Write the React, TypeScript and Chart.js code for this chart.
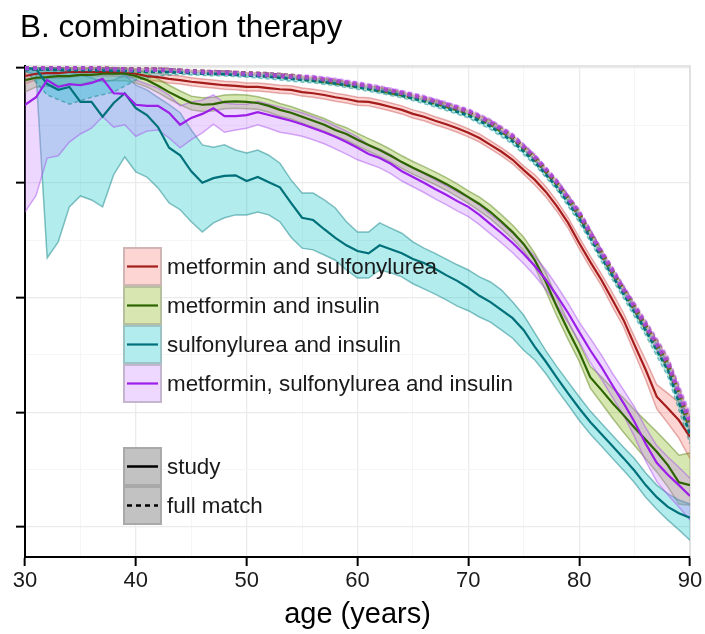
import React, { useEffect, useRef } from 'react';
import { Chart, registerables } from 'chart.js';

Chart.register(...registerables);

const FONT = '"Liberation Sans", Arial, Helvetica, sans-serif';

// ---------- axes ----------
const xTickValues = [30, 35, 40, 45, 50, 55, 60, 65, 70, 75, 80, 85, 90];
const xMajorTicks = [30, 40, 50, 60, 70, 80, 90];
const yTickValues = [0.2, 0.3, 0.4, 0.5, 0.6, 0.7, 0.8, 0.9, 1.0];
const yMajorTicks = [0.2, 0.4, 0.6, 0.8, 1.0];

// ---------- categories / legend ----------
const therapyLabels = [
  'metformin and sulfonylurea',
  'metformin and insulin',
  'sulfonylurea and insulin',
  'metformin, sulfonylurea and insulin',
];
const typeLabels = ['study', 'full match'];

// ---------- study cohort (yearly) ----------
const studyAges = [30, 31, 32, 33, 34, 35, 36, 37, 38, 39, 40, 41, 42, 43, 44, 45, 46, 47, 48, 49, 50, 51, 52, 53, 54, 55, 56, 57, 58, 59, 60, 61, 62, 63, 64, 65, 66, 67, 68, 69, 70, 71, 72, 73, 74, 75, 76, 77, 78, 79, 80, 81, 82, 83, 84, 85, 86, 87, 88, 89, 90];

const metSulStudy = [0.986, 0.990, 0.991, 0.991, 0.993, 0.993, 0.993, 0.993, 0.993, 0.991, 0.990, 0.986, 0.984, 0.981, 0.979, 0.976, 0.974, 0.972, 0.970, 0.969, 0.967, 0.967, 0.965, 0.963, 0.962, 0.958, 0.956, 0.953, 0.949, 0.946, 0.942, 0.941, 0.937, 0.932, 0.927, 0.920, 0.915, 0.908, 0.902, 0.895, 0.887, 0.878, 0.866, 0.854, 0.840, 0.822, 0.805, 0.784, 0.759, 0.730, 0.695, 0.662, 0.631, 0.596, 0.561, 0.517, 0.474, 0.427, 0.407, 0.386, 0.357];
const metSulStudyUpper = [1.000, 1.000, 1.000, 1.000, 1.000, 1.000, 1.000, 1.000, 1.000, 0.998, 0.997, 0.993, 0.991, 0.988, 0.986, 0.983, 0.981, 0.979, 0.977, 0.976, 0.974, 0.974, 0.972, 0.970, 0.969, 0.965, 0.963, 0.960, 0.956, 0.953, 0.949, 0.948, 0.944, 0.939, 0.934, 0.927, 0.922, 0.915, 0.909, 0.902, 0.894, 0.885, 0.873, 0.861, 0.847, 0.829, 0.814, 0.793, 0.768, 0.739, 0.705, 0.672, 0.641, 0.608, 0.573, 0.531, 0.491, 0.448, 0.433, 0.417, 0.395];
const metSulStudyLower = [0.972, 0.980, 0.982, 0.982, 0.984, 0.986, 0.986, 0.986, 0.986, 0.984, 0.983, 0.979, 0.977, 0.974, 0.972, 0.969, 0.967, 0.965, 0.963, 0.962, 0.960, 0.960, 0.958, 0.956, 0.955, 0.951, 0.949, 0.946, 0.942, 0.939, 0.935, 0.934, 0.930, 0.925, 0.920, 0.913, 0.908, 0.901, 0.895, 0.888, 0.880, 0.871, 0.859, 0.847, 0.833, 0.815, 0.796, 0.775, 0.750, 0.721, 0.685, 0.652, 0.621, 0.584, 0.549, 0.503, 0.457, 0.406, 0.381, 0.355, 0.319];

const metInsStudy = [0.979, 0.983, 0.984, 0.986, 0.986, 0.988, 0.988, 0.990, 0.990, 0.990, 0.986, 0.979, 0.969, 0.958, 0.948, 0.939, 0.936, 0.937, 0.941, 0.942, 0.941, 0.939, 0.934, 0.927, 0.922, 0.915, 0.908, 0.901, 0.892, 0.885, 0.875, 0.866, 0.857, 0.847, 0.836, 0.826, 0.817, 0.808, 0.798, 0.787, 0.775, 0.763, 0.749, 0.732, 0.714, 0.693, 0.665, 0.627, 0.583, 0.543, 0.505, 0.461, 0.439, 0.416, 0.395, 0.373, 0.352, 0.331, 0.308, 0.278, 0.273];
const metInsStudyUpper = [1.000, 0.999, 1.000, 1.000, 1.000, 1.000, 1.000, 1.000, 1.000, 1.000, 0.998, 0.991, 0.981, 0.970, 0.960, 0.951, 0.948, 0.949, 0.953, 0.954, 0.953, 0.950, 0.945, 0.938, 0.933, 0.926, 0.919, 0.912, 0.903, 0.896, 0.886, 0.877, 0.868, 0.858, 0.847, 0.837, 0.828, 0.819, 0.809, 0.798, 0.786, 0.775, 0.761, 0.744, 0.726, 0.705, 0.677, 0.643, 0.599, 0.559, 0.521, 0.480, 0.462, 0.442, 0.425, 0.404, 0.385, 0.366, 0.346, 0.325, 0.329];
const metInsStudyLower = [0.958, 0.967, 0.968, 0.970, 0.970, 0.972, 0.976, 0.978, 0.978, 0.978, 0.974, 0.967, 0.957, 0.946, 0.936, 0.927, 0.924, 0.925, 0.929, 0.930, 0.929, 0.928, 0.923, 0.916, 0.911, 0.904, 0.897, 0.890, 0.881, 0.874, 0.864, 0.855, 0.846, 0.836, 0.825, 0.815, 0.806, 0.797, 0.787, 0.776, 0.764, 0.751, 0.737, 0.720, 0.702, 0.681, 0.653, 0.611, 0.567, 0.527, 0.489, 0.442, 0.416, 0.390, 0.365, 0.342, 0.319, 0.296, 0.270, 0.240, 0.238];

const sulInsStudy = [1.000, 0.998, 0.972, 0.962, 0.967, 0.941, 0.941, 0.915, 0.939, 0.956, 0.930, 0.918, 0.897, 0.861, 0.848, 0.820, 0.800, 0.808, 0.812, 0.813, 0.803, 0.810, 0.801, 0.792, 0.765, 0.739, 0.735, 0.719, 0.704, 0.691, 0.681, 0.677, 0.691, 0.684, 0.677, 0.667, 0.660, 0.650, 0.639, 0.629, 0.617, 0.603, 0.592, 0.578, 0.564, 0.543, 0.514, 0.488, 0.460, 0.433, 0.407, 0.383, 0.362, 0.341, 0.320, 0.298, 0.273, 0.252, 0.235, 0.224, 0.216];
const sulInsStudyUpper = [1.000, 1.000, 1.000, 0.997, 0.993, 0.988, 0.983, 0.976, 0.979, 0.988, 0.970, 0.962, 0.949, 0.936, 0.922, 0.892, 0.866, 0.862, 0.866, 0.857, 0.852, 0.857, 0.848, 0.834, 0.805, 0.782, 0.782, 0.770, 0.756, 0.732, 0.714, 0.714, 0.730, 0.721, 0.712, 0.697, 0.686, 0.677, 0.667, 0.657, 0.648, 0.636, 0.627, 0.613, 0.592, 0.569, 0.538, 0.507, 0.479, 0.453, 0.427, 0.402, 0.381, 0.360, 0.339, 0.319, 0.294, 0.273, 0.258, 0.247, 0.240];
const sulInsStudyLower = [0.995, 0.988, 0.669, 0.697, 0.758, 0.777, 0.770, 0.758, 0.814, 0.845, 0.819, 0.810, 0.791, 0.765, 0.753, 0.732, 0.714, 0.730, 0.739, 0.744, 0.744, 0.749, 0.744, 0.732, 0.705, 0.686, 0.683, 0.674, 0.665, 0.648, 0.634, 0.634, 0.648, 0.643, 0.636, 0.624, 0.615, 0.606, 0.596, 0.585, 0.577, 0.566, 0.557, 0.543, 0.529, 0.508, 0.491, 0.467, 0.439, 0.413, 0.386, 0.362, 0.341, 0.320, 0.299, 0.277, 0.252, 0.231, 0.212, 0.195, 0.177];

const metSulInsStudy = [0.936, 0.949, 0.979, 0.967, 0.972, 0.970, 0.974, 0.981, 0.956, 0.955, 0.936, 0.934, 0.934, 0.922, 0.901, 0.913, 0.920, 0.930, 0.916, 0.916, 0.918, 0.923, 0.918, 0.913, 0.908, 0.902, 0.895, 0.888, 0.880, 0.871, 0.861, 0.850, 0.843, 0.833, 0.820, 0.810, 0.800, 0.789, 0.779, 0.768, 0.758, 0.744, 0.728, 0.712, 0.695, 0.676, 0.655, 0.631, 0.603, 0.573, 0.540, 0.508, 0.479, 0.447, 0.416, 0.383, 0.345, 0.312, 0.291, 0.273, 0.254];
const metSulInsStudyUpper = [0.997, 0.997, 0.998, 0.997, 0.997, 0.997, 0.997, 0.998, 0.993, 0.990, 0.979, 0.972, 0.965, 0.953, 0.934, 0.941, 0.944, 0.953, 0.939, 0.937, 0.937, 0.942, 0.937, 0.932, 0.927, 0.922, 0.915, 0.908, 0.899, 0.890, 0.880, 0.866, 0.859, 0.849, 0.836, 0.826, 0.816, 0.805, 0.795, 0.784, 0.774, 0.761, 0.745, 0.729, 0.712, 0.693, 0.672, 0.648, 0.620, 0.590, 0.557, 0.529, 0.500, 0.468, 0.439, 0.409, 0.373, 0.342, 0.322, 0.304, 0.285];
const metSulInsStudyLower = [0.749, 0.778, 0.843, 0.847, 0.871, 0.885, 0.895, 0.915, 0.897, 0.901, 0.881, 0.890, 0.892, 0.878, 0.861, 0.875, 0.887, 0.902, 0.888, 0.892, 0.895, 0.901, 0.895, 0.888, 0.885, 0.881, 0.875, 0.868, 0.859, 0.850, 0.840, 0.833, 0.826, 0.816, 0.803, 0.793, 0.783, 0.772, 0.762, 0.751, 0.741, 0.727, 0.711, 0.695, 0.678, 0.659, 0.638, 0.614, 0.586, 0.556, 0.523, 0.487, 0.458, 0.426, 0.395, 0.357, 0.315, 0.279, 0.256, 0.235, 0.212];

// ---------- full match (every 2 years) ----------
const fullAges = [30, 32, 34, 36, 38, 40, 42, 44, 46, 48, 50, 52, 54, 56, 58, 60, 62, 64, 66, 68, 70, 72, 74, 76, 78, 80, 82, 84, 86, 88, 90];

const metSulFull = [1.000, 1.000, 1.000, 1.000, 0.998, 0.997, 0.997, 0.995, 0.993, 0.992, 0.990, 0.988, 0.985, 0.981, 0.976, 0.970, 0.963, 0.955, 0.946, 0.935, 0.923, 0.904, 0.879, 0.843, 0.799, 0.745, 0.677, 0.613, 0.550, 0.484, 0.378];
const metSulFullUpper = [1.000, 1.000, 1.000, 1.000, 1.000, 1.000, 1.000, 0.998, 0.996, 0.995, 0.993, 0.992, 0.989, 0.985, 0.980, 0.974, 0.967, 0.959, 0.950, 0.939, 0.927, 0.909, 0.884, 0.848, 0.804, 0.752, 0.684, 0.620, 0.559, 0.496, 0.394];
const metSulFullLower = [0.997, 0.997, 0.997, 0.997, 0.995, 0.994, 0.994, 0.992, 0.990, 0.989, 0.987, 0.984, 0.981, 0.977, 0.972, 0.966, 0.959, 0.951, 0.942, 0.931, 0.919, 0.899, 0.874, 0.838, 0.794, 0.738, 0.670, 0.606, 0.541, 0.472, 0.362];

const metInsFull = [1.000, 1.000, 1.000, 1.000, 0.998, 0.997, 0.997, 0.995, 0.993, 0.992, 0.990, 0.988, 0.985, 0.980, 0.975, 0.969, 0.962, 0.954, 0.945, 0.934, 0.922, 0.903, 0.878, 0.842, 0.798, 0.744, 0.676, 0.612, 0.549, 0.482, 0.375];
const metInsFullUpper = [1.000, 1.000, 1.000, 1.000, 1.000, 1.000, 1.000, 0.998, 0.996, 0.995, 0.993, 0.992, 0.989, 0.984, 0.979, 0.973, 0.966, 0.958, 0.949, 0.938, 0.926, 0.908, 0.883, 0.847, 0.803, 0.751, 0.683, 0.619, 0.558, 0.494, 0.391];
const metInsFullLower = [0.997, 0.997, 0.997, 0.997, 0.995, 0.994, 0.994, 0.992, 0.990, 0.989, 0.987, 0.984, 0.981, 0.976, 0.971, 0.965, 0.958, 0.950, 0.941, 0.930, 0.918, 0.898, 0.873, 0.837, 0.793, 0.737, 0.669, 0.605, 0.540, 0.470, 0.359];

const sulInsFull = [0.998, 0.997, 0.996, 0.996, 0.995, 0.994, 0.993, 0.992, 0.990, 0.989, 0.987, 0.985, 0.981, 0.978, 0.973, 0.967, 0.960, 0.952, 0.942, 0.930, 0.917, 0.898, 0.872, 0.836, 0.792, 0.738, 0.670, 0.606, 0.543, 0.474, 0.361];
const sulInsFullUpper = [1.000, 1.000, 0.999, 0.999, 0.998, 0.997, 0.996, 0.995, 0.993, 0.992, 0.990, 0.989, 0.985, 0.982, 0.977, 0.971, 0.964, 0.956, 0.946, 0.934, 0.921, 0.903, 0.877, 0.841, 0.797, 0.745, 0.677, 0.613, 0.552, 0.486, 0.377];
const sulInsFullLower = [0.997, 0.953, 0.937, 0.949, 0.958, 0.979, 0.986, 0.989, 0.987, 0.986, 0.984, 0.981, 0.977, 0.974, 0.969, 0.963, 0.956, 0.948, 0.938, 0.926, 0.913, 0.893, 0.867, 0.831, 0.787, 0.731, 0.663, 0.599, 0.534, 0.462, 0.345];

const metSulInsFull = [1.000, 1.000, 1.000, 1.000, 0.998, 0.997, 0.997, 0.995, 0.993, 0.992, 0.990, 0.988, 0.985, 0.983, 0.978, 0.972, 0.965, 0.957, 0.948, 0.937, 0.925, 0.906, 0.881, 0.845, 0.801, 0.747, 0.679, 0.615, 0.552, 0.486, 0.383];
const metSulInsFullUpper = [1.000, 1.000, 1.000, 1.000, 1.000, 1.000, 1.000, 0.998, 0.996, 0.995, 0.993, 0.992, 0.989, 0.987, 0.982, 0.976, 0.969, 0.961, 0.952, 0.941, 0.929, 0.911, 0.886, 0.850, 0.806, 0.754, 0.686, 0.622, 0.561, 0.498, 0.399];
const metSulInsFullLower = [0.997, 0.997, 0.997, 0.997, 0.995, 0.994, 0.994, 0.992, 0.990, 0.989, 0.987, 0.984, 0.981, 0.979, 0.974, 0.968, 0.961, 0.953, 0.944, 0.933, 0.921, 0.901, 0.876, 0.840, 0.796, 0.740, 0.672, 0.608, 0.543, 0.474, 0.367];

// ---------- styles ----------
const bandFills = ['rgba(248,118,109,0.3)', 'rgba(124,174,0,0.3)', 'rgba(0,191,196,0.3)', 'rgba(199,124,255,0.3)'];
const bandEdges = ['rgba(200,80,80,0.45)', 'rgba(80,125,10,0.45)', 'rgba(0,120,125,0.45)', 'rgba(165,70,235,0.45)'];
const legendFills = ['#fdd6d3', '#d8e7b2', '#b2ecee', '#eed8ff'];
const lineColors = ['#a51c1c', '#2e6400', '#00717a', '#9b1fe8'];
const fullLineColors = ['rgba(175,45,45,0.8)', 'rgba(75,110,0,0.8)', '#00717a', 'rgba(178,72,235,0.85)'];

function pts(xs: number[], ys: number[]) {
  return xs.map((x, i) => ({ x, y: ys[i] }));
}

function bandSets(xs: number[], upper: number[], lower: number[], k: number, dash: number[], order: number) {
  const base = {
    pointRadius: 0,
    borderWidth: 1.5,
    borderColor: bandEdges[k],
    borderDash: dash,
    tension: 0,
    order,
  };
  return [
    { ...base, label: 'upper', data: pts(xs, upper), fill: false },
    { ...base, label: 'lower', data: pts(xs, lower), fill: '-1', backgroundColor: bandFills[k] },
  ];
}

function lineSet(xs: number[], ys: number[], color: string, width: number, dash: number[], order: number) {
  return {
    label: 'line',
    data: pts(xs, ys),
    borderColor: color,
    borderWidth: width,
    borderDash: dash,
    borderCapStyle: 'butt',
    pointRadius: 0,
    fill: false,
    tension: 0,
    order,
  };
}

const studyLines = [metSulStudy, metInsStudy, sulInsStudy, metSulInsStudy];
const studyUppers = [metSulStudyUpper, metInsStudyUpper, sulInsStudyUpper, metSulInsStudyUpper];
const studyLowers = [metSulStudyLower, metInsStudyLower, sulInsStudyLower, metSulInsStudyLower];
const fullLines = [metSulFull, metInsFull, sulInsFull, metSulInsFull];
const fullUppers = [metSulFullUpper, metInsFullUpper, sulInsFullUpper, metSulInsFullUpper];
const fullLowers = [metSulFullLower, metInsFullLower, sulInsFullLower, metSulInsFullLower];

function buildDatasets() {
  const ds: any[] = [];
  for (let k = 0; k < 4; k++) {
    const teal = k === 2;
    ds.push(lineSet(fullAges, fullLines[k], fullLineColors[k], teal ? 2.6 : 4.5, teal ? [4, 3] : [4, 4], 4 - k));
  }
  for (let k = 0; k < 4; k++) {
    ds.push(lineSet(studyAges, studyLines[k], lineColors[k], 2.2, [], 10 - k));
  }
  for (let k = 0; k < 4; k++) {
    ds.push(...bandSets(fullAges, fullUppers[k], fullLowers[k], k, [4, 3], 16 - k));
  }
  for (let k = 0; k < 4; k++) {
    ds.push(...bandSets(studyAges, studyUppers[k], studyLowers[k], k, [], 24 - k));
  }
  return ds;
}

const panelBorder = {
  id: 'panelBorder',
  beforeDatasetsDraw(chart: any) {
    const { ctx, chartArea } = chart;
    const { left, top, right, bottom } = chartArea;
    ctx.save();
    ctx.strokeStyle = '#dcdcdc';
    ctx.lineWidth = 1.5;
    ctx.beginPath();
    ctx.moveTo(left + 1, top);
    ctx.lineTo(right, top);
    ctx.lineTo(right, bottom - 1);
    ctx.stroke();
    ctx.restore();
  },
};

const insetLegend = {
  id: 'insetLegend',
  afterDraw(chart: any) {
    const { ctx, chartArea } = chart;
    const bx = chartArea.left + 98;
    const bw = 39;
    const bh = 39;
    ctx.save();
    ctx.font = `22.4px ${FONT}`;
    ctx.textBaseline = 'middle';
    ctx.textAlign = 'left';
    let y0 = chartArea.top + 181;
    therapyLabels.forEach((lab, i) => {
      const ty = y0 + i * bh;
      ctx.fillStyle = legendFills[i];
      ctx.fillRect(bx, ty, bw, bh);
      ctx.strokeStyle = 'rgba(120,120,120,0.35)';
      ctx.lineWidth = 2;
      ctx.strokeRect(bx + 1, ty + 1, bw - 2, bh - 2);
      ctx.strokeStyle = lineColors[i];
      ctx.lineWidth = 2.2;
      ctx.beginPath();
      ctx.moveTo(bx + 4, ty + bh / 2);
      ctx.lineTo(bx + bw - 4, ty + bh / 2);
      ctx.stroke();
      ctx.fillStyle = '#1a1a1a';
      ctx.fillText(lab, bx + bw + 5, ty + bh / 2 + 1);
    });
    y0 = chartArea.top + 381;
    typeLabels.forEach((lab, i) => {
      const ty = y0 + i * bh;
      ctx.fillStyle = '#c2c2c2';
      ctx.fillRect(bx, ty, bw, bh);
      ctx.strokeStyle = '#a9a9a9';
      ctx.lineWidth = 2;
      ctx.strokeRect(bx + 1, ty + 1, bw - 2, bh - 2);
      ctx.strokeStyle = '#000';
      ctx.lineWidth = 2.5;
      ctx.setLineDash(i === 0 ? [] : [5, 4]);
      ctx.beginPath();
      ctx.moveTo(bx + 4, ty + bh / 2);
      ctx.lineTo(bx + bw - 4, ty + bh / 2);
      ctx.stroke();
      ctx.setLineDash([]);
      ctx.fillStyle = '#1a1a1a';
      ctx.fillText(lab, bx + bw + 5, ty + bh / 2 + 1);
    });
    ctx.restore();
  },
};

export default function App() {
  const ref = useRef<HTMLCanvasElement>(null);
  useEffect(() => {
    const canvas = ref.current;
    if (!canvas) return;
    const isMajorX = (v: number) => xMajorTicks.includes(v);
    const isMajorY = (v: number) => yMajorTicks.some((m) => Math.abs(m - v) < 1e-6);
    const chart = new Chart(canvas, {
      type: 'line',
      data: { datasets: buildDatasets() },
      options: {
        responsive: false,
        animation: false,
        devicePixelRatio: 1,
        layout: { padding: { left: 20, right: 15, top: 0, bottom: 0 } },
        plugins: {
          legend: { display: false },
          tooltip: { enabled: false },
          title: {
            display: true,
            text: 'B. combination therapy',
            align: 'start',
            color: '#000',
            font: { size: 31.5, family: FONT, weight: 'normal' },
            padding: { top: 9, bottom: 19.2 },
          },
        },
        scales: {
          x: {
            type: 'linear',
            min: 30,
            max: 90,
            afterBuildTicks: (scale: any) => {
              scale.ticks = xTickValues.map((v) => ({ value: v }));
            },
            afterFit: (scale: any) => {
              scale.height = 77;
            },
            ticks: {
              autoSkip: false,
              maxRotation: 0,
              padding: 2,
              color: '#1a1a1a',
              font: { size: 22, family: FONT },
              callback: (v: any) => (isMajorX(Number(v)) ? String(v) : ''),
            },
            grid: {
              color: (c: any) => (c.tick && isMajorX(c.tick.value) ? '#ebebeb' : '#f5f5f5'),
              lineWidth: (c: any) => (c.tick && isMajorX(c.tick.value) ? 1.3 : 1),
              tickColor: (c: any) => (c.tick && isMajorX(c.tick.value) ? '#000' : 'rgba(0,0,0,0)'),
              tickWidth: 2,
              tickLength: 9,
            },
            border: { color: '#000', width: 2 },
            title: {
              display: true,
              text: 'age (years)',
              color: '#000',
              font: { size: 29, family: FONT },
              padding: { top: 0, bottom: 2 },
            },
          },
          y: {
            type: 'linear',
            min: 0.1477,
            max: 1.0035,
            afterBuildTicks: (scale: any) => {
              scale.ticks = yTickValues.map((v) => ({ value: v }));
            },
            afterFit: (scale: any) => {
              scale.width = 5;
            },
            ticks: { display: false },
            grid: {
              color: (c: any) => (c.tick && isMajorY(c.tick.value) ? '#ebebeb' : '#f5f5f5'),
              lineWidth: (c: any) => (c.tick && isMajorY(c.tick.value) ? 1.3 : 1),
              tickColor: (c: any) => (c.tick && isMajorY(c.tick.value) ? '#000' : 'rgba(0,0,0,0)'),
              tickWidth: 2,
              tickLength: 9,
            },
            border: { color: '#000', width: 2 },
          },
        },
      } as any,
      plugins: [panelBorder, insetLegend],
    });
    return () => chart.destroy();
  }, []);
  return (
    <div style={{ position: 'absolute', left: 0, top: 0, width: 705, height: 634, background: '#fff' }}>
      <canvas ref={ref} width={705} height={634} style={{ display: 'block' }} />
    </div>
  );
}
